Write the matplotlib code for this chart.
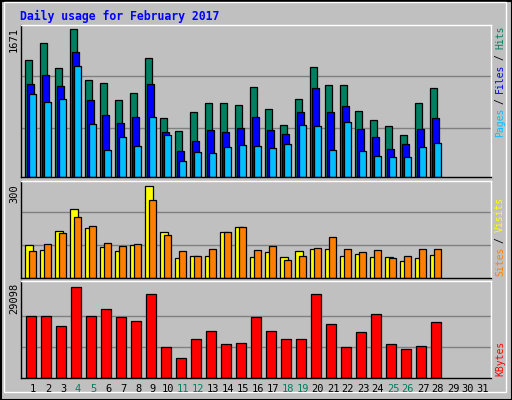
import matplotlib
matplotlib.use("Agg")
import matplotlib.pyplot as plt
from matplotlib.patches import Rectangle

days = list(range(1, 29))
hits = [1319,1512,1229,1671,1093,1058,866,956,1342,662,525,741,832,832,809,1013,775,593,888,1240,1036,1036,752,650,582,480,832,1002]
files = [1047,1149,1024,1410,866,696,616,684,1047,514,299,412,537,514,559,684,537,491,730,1002,730,798,548,457,321,378,548,662]
pages = [934,854,877,1251,605,310,457,355,684,480,185,287,276,344,367,355,333,378,593,582,310,627,299,242,231,231,344,389]
sites = [108,92,154,225,164,102,89,108,300,151,66,73,73,151,167,69,86,69,89,95,95,73,79,69,69,56,66,76]
visits = [89,112,147,199,170,115,105,112,255,141,89,73,95,151,167,92,105,60,73,99,134,95,86,92,66,73,95,95]
kbytes = [19859,19859,16673,29098,19859,22090,19541,18266,26869,9983,6478,12532,15080,10939,11257,19541,15080,12532,12532,26869,17311,9983,14762,20497,10939,9346,10301,17948]
weekend = [4,5,11,12,18,19,25,26]

W, H = 512, 400
fig = plt.figure(figsize=(W/100, H/100), dpi=100, facecolor="#C0C0C0")
fig.patches.append(Rectangle((0.5/W, 0.5/H), 1-1/W, 1-1/H, transform=fig.transFigure,
                             fill=False, ec="black", lw=1.5))
fig.patches.append(Rectangle((4/W, 8/H), 1-10/W, 1-10/H, transform=fig.transFigure,
                             fill=False, ec="white", lw=1))

def mkax(y0, y1):
    ax = fig.add_axes([20.7/W, 1-y1/H, (490.7-20.7)/W, (y1-y0)/H])
    ax.set_facecolor("#C0C0C0")
    ax.set_xlim(0.18, 31.51)
    ax.set_xticks([]); ax.set_yticks([])
    for s in ax.spines.values():
        s.set_color("black"); s.set_linewidth(1)
    ax.spines["right"].set_color("white"); ax.spines["top"].set_color("white")
    return ax

kw = dict(ec="black", lw=0.9, align="edge")
mono = "DejaVu Sans Mono"

ax1 = mkax(24.7, 177)
top = max(hits) * 152 / 147.4
ax1.set_ylim(0, top)
for f in (0.325, 0.66):
    ax1.axhline(top*f, color="#808080", lw=1, zorder=0)
ax1.bar([d-0.51 for d in days], hits, 0.47, color="#008060", **kw)
ax1.bar([d-0.38 for d in days], files, 0.47, color="#0000FF", **kw)
ax1.bar([d-0.24 for d in days], pages, 0.47, color="#00C0FF", **kw)

ax2 = mkax(180.7, 278)
top = max(sites) * 97.3 / 92.3
ax2.set_ylim(0, top)
for f in (0.335, 0.675):
    ax2.axhline(top*f, color="#808080", lw=1, zorder=0)
ax2.bar([d-0.51 for d in days], sites, 0.52, color="#FFFF00", **kw)
ax2.bar([d-0.24 for d in days], visits, 0.47, color="#FF8000", **kw)

ax3 = mkax(280.5, 378)
top = max(kbytes) * 97.5 / 91.3
ax3.set_ylim(0, top)
for f in (0.32, 0.64):
    ax3.axhline(top*f, color="#808080", lw=1, zorder=0)
ax3.bar([d-0.44 for d in days], kbytes, 0.67, color="#FF0000", **kw)

def ftext(x, y, s, **k):
    fig.text(x/W, 1-y/H, s, family=mono, **k)

ftext(20, 16, "Daily usage for February 2017", color="#0000FF", fontsize=8.3,
      fontweight="bold", va="center", ha="left")
ftext(14, 27, str(max(hits)), rotation=90, va="top", ha="center", fontsize=7.5)
ftext(14, 184, str(max(sites)), rotation=90, va="top", ha="center", fontsize=7.5)
ftext(14, 283, str(max(kbytes)), rotation=90, va="top", ha="center", fontsize=7.5)

cw = 5.5
def vlabel(ybottom, pieces):
    y = ybottom
    for s, c in pieces:
        ftext(500, y, s.strip(), rotation=90, color=c, va="bottom", ha="center", fontsize=7.0)
        if s.strip() == "/":
            pass
        y -= cw * len(s)

def vlabel2(ybottom, pieces):
    y = ybottom
    for s, c in pieces:
        st = s.strip()
        lead = len(s) - len(s.lstrip())
        ftext(500, y - lead*cw, st, rotation=90, color=c, va="bottom", ha="center", fontsize=7.0)
        y -= cw * len(s)

vlabel2(137, [("Pages", "#00C0FF"), (" / ", "black"), ("Files", "#0000FF"), (" / ", "black"), ("Hits", "#008060")])
vlabel2(276, [("Sites", "#FF8000"), (" / ", "black"), ("Visits", "#FFFF00")])
vlabel2(376, [("KBytes", "#FF0000")])

for d in range(1, 32):
    x = 33 + (d-1)*15
    ftext(x, 389, str(d), color="#008060" if d in weekend else "black",
          ha="center", va="center", fontsize=7.5)

fig.savefig("out.png", dpi=100, facecolor=fig.get_facecolor())
